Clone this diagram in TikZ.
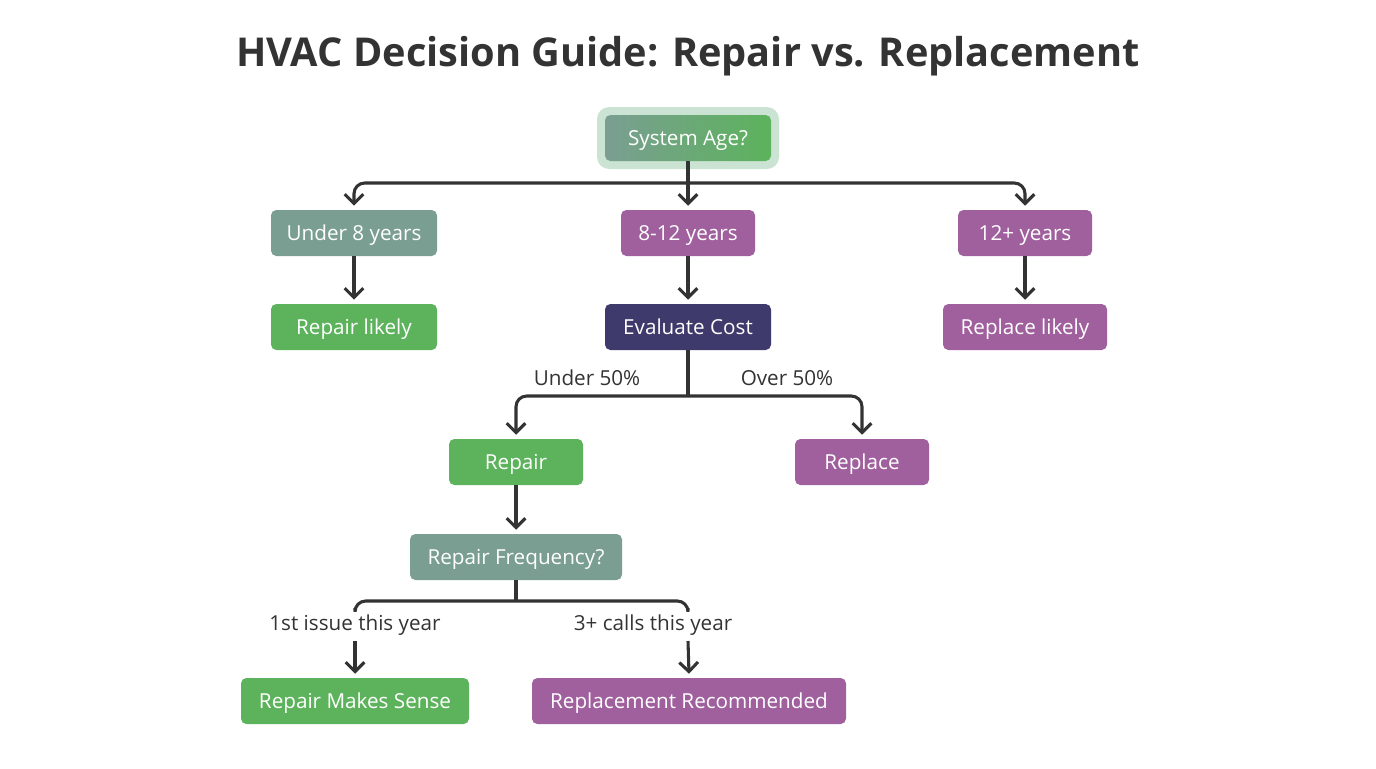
\documentclass[tikz,border=0pt]{standalone}
\usepackage{fontspec}
\setmainfont{Open Sans}
\usetikzlibrary{arrows.meta}
\definecolor{teal}{HTML}{7A9E92}
\definecolor{purp}{HTML}{A0609E}
\definecolor{grn}{HTML}{5CB35C}
\definecolor{navy}{HTML}{3E3A6B}
\definecolor{ln}{HTML}{333333}
\definecolor{halo}{HTML}{CBE3D3}
\begin{document}
\begin{tikzpicture}[x=0.75pt,y=-0.75pt,
 box/.style={rounded corners=4pt,text=white,font=\fontsize{15.5}{18}\selectfont,minimum height=34.5pt,inner xsep=8pt,anchor=center,text depth=0pt,text height=11pt},
 c/.style={draw=ln,line width=2.3pt,rounded corners=8pt},
 a/.style={c,-{Straight Barb[length=7pt,width=14pt]}},
 lab/.style={font=\fontsize{15.5}{18}\selectfont,text=ln}]
\useasboundingbox (0,0) rectangle (1376,768);
\node[font=\bfseries\fontsize{29.8}{34}\selectfont,text=ln] (title) at (688,56) {HVAC Decision Guide: Repair vs. Replacement};
\fill[halo,rounded corners=9pt] (597,107) rectangle (779,169);
\node[box,left color=teal,right color=grn,minimum width=124.5pt] (sys) at (688,138) {System Age?};
\node[box,fill=teal,minimum width=124.5pt] (u8) at (354,233) {Under 8 years};
\node[box,fill=purp,minimum width=100.5pt] (m8) at (688,233) {8-12 years};
\node[box,fill=purp,minimum width=100.5pt] (o12) at (1025,233) {12+ years};
\node[box,fill=grn,minimum width=124.5pt] (rl) at (354,327) {Repair likely};
\node[box,fill=navy,minimum width=124.5pt] (ev) at (688,327) {Evaluate Cost};
\node[box,fill=purp,minimum width=123pt] (pl) at (1025,327) {Replace likely};
\node[box,fill=grn,minimum width=100.5pt] (rp) at (516,462) {Repair};
\node[box,fill=purp,minimum width=100.5pt] (rc) at (862,462) {Replace};
\node[box,fill=teal,minimum width=159pt] (rf) at (516,557) {Repair Frequency?};
\node[box,fill=grn,minimum width=171pt] (rm) at (355,701) {Repair Makes Sense};
\node[box,fill=purp,minimum width=235.5pt] (rr) at (689,701) {Replacement Recommended};
% top split
\coordinate (b1) at (688,183);
\draw[c] (sys.south) -- (b1);
\draw[a] (b1) -| ([yshift=3pt]u8.north);
\draw[a] (b1) -- ([yshift=3pt]m8.north);
\draw[a] (b1) -| ([yshift=3pt]o12.north);
\draw[a] (u8) -- ([yshift=3pt]rl.north);
\draw[a] (m8) -- ([yshift=3pt]ev.north);
\draw[a] (o12) -- ([yshift=3pt]pl.north);
% cost split
\node[lab] (l1) at (587,378) {Under 50\%};
\node[lab] (l2) at (787,378) {Over 50\%};
\coordinate (b2) at (688,396);
\draw[c] (ev.south) -- (b2);
\draw[a] (b2) -| ([yshift=3pt]rp.north);
\draw[a] (b2) -| ([yshift=3pt]rc.north);
\draw[a] (rp) -- ([yshift=3pt]rf.north);
% frequency split
\node[lab] (l3) at (355,625) {1st issue this year};
\node[lab] (l4) at (653,625) {3+ calls this year};
\coordinate (b3) at (516,601);
\coordinate (s1) at (355,608);
\coordinate (s2) at (688,608);
\draw[c] (rf.south) -- (b3);
\draw[c] (b3) -| (s1);
\draw[c] (b3) -| (s2);
\draw[a] (355,641) -- ([yshift=3pt]rm.north);
\draw[a] (688,641) -- ([yshift=3pt]rr.north);
\end{tikzpicture}
\end{document}
